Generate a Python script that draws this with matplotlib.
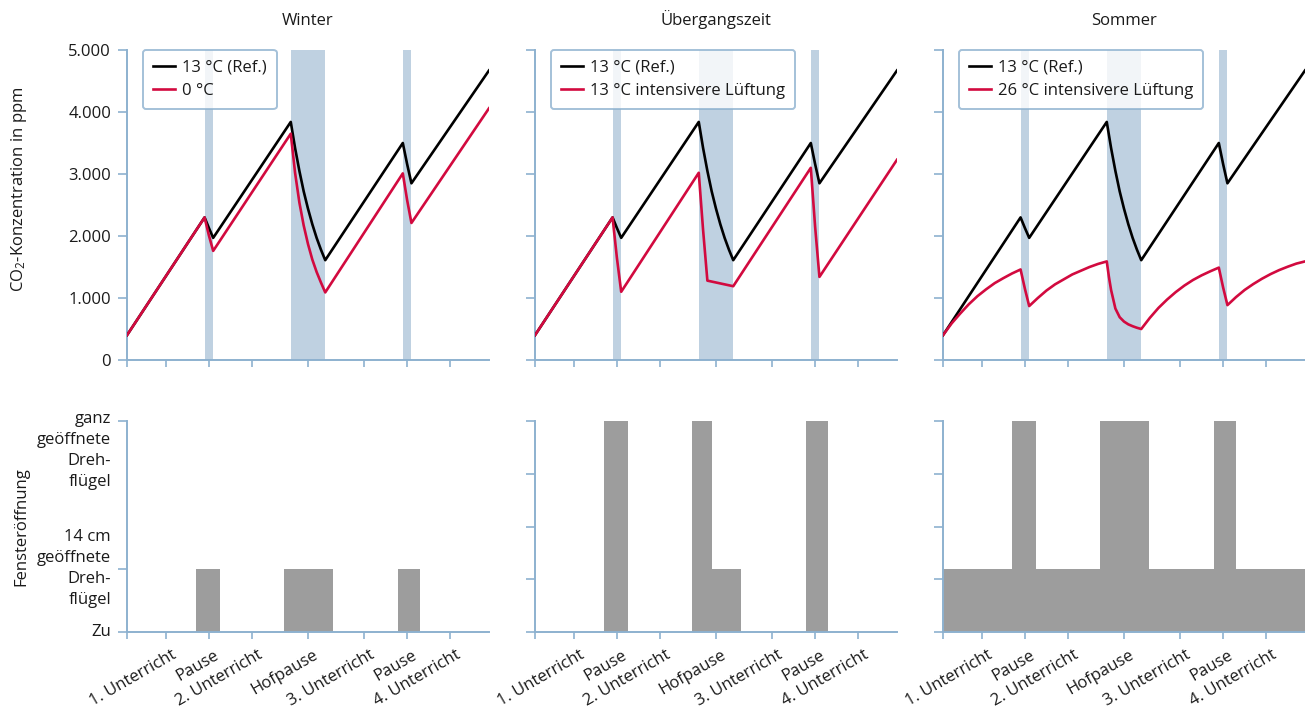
import matplotlib
matplotlib.use("Agg")
import matplotlib.pyplot as plt
from matplotlib.transforms import ScaledTranslation

plt.rcParams['font.family'] = ['Open Sans', 'DejaVu Sans']
plt.rcParams['mathtext.fontset'] = 'custom'
plt.rcParams['mathtext.rm'] = 'Open Sans'
plt.rcParams['mathtext.it'] = 'Open Sans:italic'
plt.rcParams['mathtext.bf'] = 'Open Sans:bold'

# ---------------- data ----------------
titles = ["Winter", "Übergangszeit", "Sommer"]
period_labels = ["1. Unterricht", "Pause", "2. Unterricht", "Hofpause",
                 "3. Unterricht", "Pause", "4. Unterricht"]
period_mid = [22.5, 47.5, 72.5, 105, 137.5, 162.5, 187.5]   # minutes
break_start = [45, 95, 160]
break_end = [50, 115, 165]

ref_label = "13 °C (Ref.)"
var_labels = ["0 °C", "13 °C intensivere Lüftung", "26 °C intensivere Lüftung"]

# reference (13 °C) – same in all panels
t_ref = [0, 45, 47.5, 50, 95, 97.5, 100, 102.5, 105, 107.5, 110, 112.5, 115,
         160, 162.5, 165, 210]
co2_ref = [400, 2300, 2130, 1970, 3840, 3420, 3050, 2720, 2440, 2190, 1970, 1780, 1610,
           3500, 3160, 2850, 4670]

# winter 0 °C
t_winter = [0, 45, 47.5, 50, 95, 97.5, 100, 102.5, 105, 107.5, 110, 112.5, 115,
            160, 162.5, 165, 210]
co2_winter = [400, 2300, 2010, 1760, 3650, 3020, 2540, 2170, 1870, 1620, 1420, 1250, 1090,
              3010, 2580, 2210, 4060]

# transition season 13 °C intensive ventilation
t_trans = [0, 45, 47.5, 50, 95, 97.5, 100, 105, 110, 115, 160, 162.5, 165, 210]
co2_trans = [400, 2300, 1650, 1100, 3020, 2100, 1280, 1250, 1220, 1190, 3100, 2150, 1340, 3230]

# summer 26 °C intensive ventilation
t_summer = [0, 5, 10, 15, 20, 25, 30, 35, 40, 45, 47.5,
            50, 55, 60, 65, 70, 75, 80, 85, 90, 95,
            96.25, 97.5, 100, 102.5, 105, 107.5, 110, 112.5,
            115, 120, 125, 130, 135, 140, 145, 150, 155, 160, 162.5,
            165, 170, 175, 180, 185, 190, 195, 200, 205, 210]
co2_summer = [400, 590, 750, 900, 1030, 1140, 1240, 1320, 1395, 1460, 1150,
              870, 1000, 1120, 1220, 1300, 1380, 1440, 1500, 1550, 1590,
              1340, 1130, 830, 690, 620, 575, 545, 520,
              500, 680, 840, 975, 1095, 1200, 1290, 1365, 1430, 1490, 1170,
              885, 1015, 1130, 1225, 1310, 1385, 1450, 1505, 1555, 1590]

t_var = [t_winter, t_trans, t_summer]
co2_var = [co2_winter, co2_trans, co2_summer]

# window opening (0 = Zu, 0.3 = 14 cm, 1 = ganz geöffnet)
open_edges = [0, 40.3, 53.7, 90.8, 102.8, 119.3, 157.2, 170.2, 210]
open_winter = [0, 0.3, 0, 0.3, 0.3, 0, 0.3, 0]
open_trans = [0, 1, 0, 1, 0.3, 0, 1, 0]
open_summer = [0.3, 1, 0.3, 1, 1, 0.3, 1, 0.3]
open_levels = [open_winter, open_trans, open_summer]

open_ticks = [0, 0.3, 1.0]
open_ticklabels = ["Zu", "14 cm\ngeöffnete\nDreh-\nflügel", "ganz\ngeöffnete\nDreh-\nflügel"]

co2_ticks = [0, 1000, 2000, 3000, 4000, 5000]

# ---------------- style ----------------
W, H = 1305, 711
BLUE = '#8db1cf'
SHADE = '#bfd1e1'
RED = '#d20a3f'
GRAY = '#9d9d9d'
TXT = '#1a1a1a'
FS = 12

fig = plt.figure(figsize=(W / 100, H / 100), dpi=100)

lefts = [127, 535, 943]
pw = 362


def ax_rect(left, top, bottom):
    return [left / W, (H - bottom) / H, pw / W, (bottom - top) / H]


def style_axes(ax):
    for s in ['top', 'right']:
        ax.spines[s].set_visible(False)
    for s in ['left', 'bottom']:
        ax.spines[s].set_color(BLUE)
        ax.spines[s].set_linewidth(1.4)
    ax.tick_params(axis='y', colors=BLUE, labelcolor=TXT, length=6.5, width=1.2,
                   labelsize=FS, pad=5)
    ax.tick_params(axis='x', colors=BLUE, labelcolor=TXT, length=5, width=1.2,
                   labelsize=FS, pad=6)


xticks = [0] + period_mid
xticklabels = [""] + period_labels
xmax = 210

for i in range(3):
    # ---- top: CO2 ----
    ax = fig.add_axes(ax_rect(lefts[i], 50, 360))
    style_axes(ax)
    for s0, s1 in zip(break_start, break_end):
        ax.axvspan(s0, s1, color=SHADE, lw=0, zorder=0)
    ax.plot(t_ref, co2_ref, color='black', lw=1.9, label=ref_label, zorder=3)
    ax.plot(t_var[i], co2_var[i], color=RED, lw=1.9, label=var_labels[i], zorder=3)
    ax.set_xlim(0, xmax)
    ax.set_ylim(0, 5000)
    ax.set_yticks(co2_ticks)
    if i == 0:
        ax.set_yticklabels([f"{v:,.0f}".replace(',', '.') for v in co2_ticks])
        ax.set_ylabel("CO$_2$-Konzentration in ppm", fontsize=FS, color=TXT)
        ax.yaxis.set_label_coords(-0.27, 0.55)
    else:
        ax.set_yticklabels([])
    ax.set_xticks(xticks)
    ax.set_xticklabels([])
    ax.set_title(titles[i], fontsize=FS, color=TXT, pad=18)
    leg = ax.legend(loc='upper left', bbox_to_anchor=(0.044, 1.0), borderaxespad=0,
                    fontsize=FS, handlelength=1.3, handletextpad=0.45,
                    labelspacing=0.42, borderpad=0.6, framealpha=0.8,
                    edgecolor=BLUE, fancybox=True)
    leg.get_frame().set_linewidth(1.4)
    leg.get_frame().set_boxstyle('round,pad=0,rounding_size=0.2')
    for txt in leg.get_texts():
        txt.set_color(TXT)

    # ---- bottom: window opening ----
    bx = fig.add_axes(ax_rect(lefts[i], 421, 632))
    style_axes(bx)
    bx.stairs(open_levels[i], open_edges, fill=True, color=GRAY, lw=0, zorder=1)
    bx.set_xlim(0, xmax)
    bx.set_ylim(0, 1)
    bx.set_xticks(xticks)
    bx.set_xticklabels(xticklabels, rotation=30, ha='right', va='top',
                       rotation_mode='anchor')
    off = ScaledTranslation(5 / 100, 0, fig.dpi_scale_trans)
    for lab in bx.get_xticklabels():
        lab.set_transform(lab.get_transform() + off)
    if i == 0:
        bx.set_yticks(open_ticks)
        bx.set_yticklabels(open_ticklabels, linespacing=1.42)
        labs = bx.get_yticklabels()
        labs[0].set_va('center')
        labs[1].set_va('center')
        labs[2].set_va('top')
        labs[2].set_transform(labs[2].get_transform() +
                              ScaledTranslation(0, 10 / 100, fig.dpi_scale_trans))
        bx.set_ylabel("Fensteröffnung", fontsize=FS, color=TXT)
        bx.yaxis.set_label_coords(-0.27, 0.5)
    else:
        bx.set_yticks([0, 0.25, 0.5, 0.75, 1.0])
        bx.set_yticklabels([])

fig.savefig("out.png", dpi=100)
